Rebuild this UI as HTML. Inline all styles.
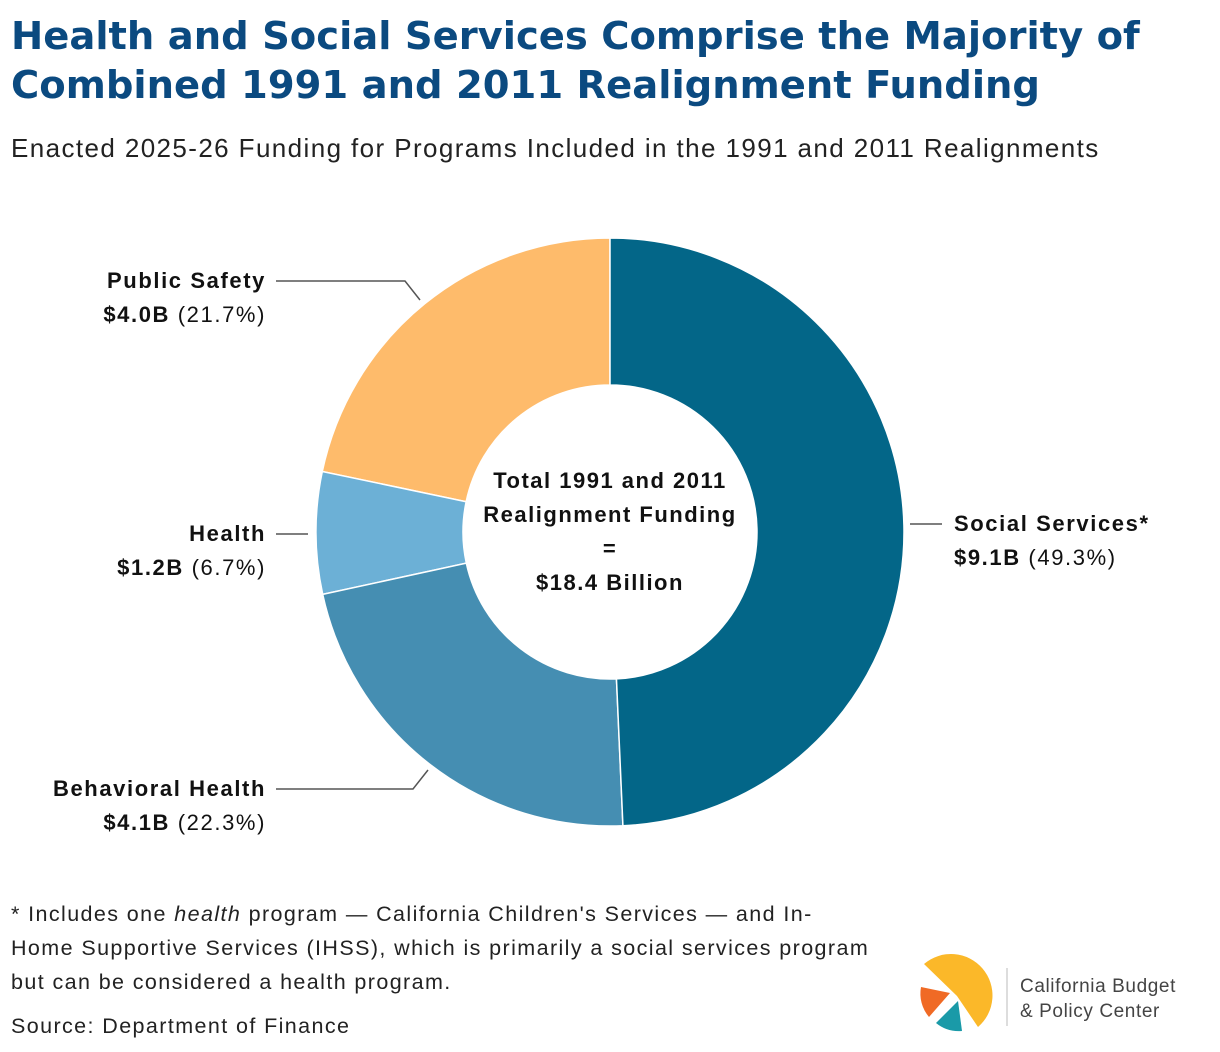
<!DOCTYPE html>
<html><head><meta charset="utf-8"><style>
body{margin:0;width:1220px;height:1052px;background:#fff;font-family:"Liberation Sans",sans-serif;position:relative;overflow:hidden}
.t{position:absolute;left:11px;top:12px;font-family:"DejaVu Sans",sans-serif;font-size:38.5px;font-weight:bold;color:#0b4a80;line-height:49px;white-space:nowrap}
.s{position:absolute;left:11px;top:133px;font-size:26px;color:#222;letter-spacing:1.4px;white-space:nowrap}
.lab{position:absolute;font-size:22px;color:#111;line-height:34px;letter-spacing:1.6px;white-space:nowrap}
.r{text-align:right}
.n{position:absolute;left:11px;font-size:21.5px;color:#222;line-height:34px;letter-spacing:1.4px;white-space:nowrap}
</style></head><body>
<div class="t">Health and Social Services Comprise the Majority of<br>Combined 1991 and 2011 Realignment Funding</div>
<div class="s">Enacted 2025-26 Funding for Programs Included in the 1991 and 2011 Realignments</div>
<svg id="c" width="1220" height="1052" style="position:absolute;left:0;top:0">
<g stroke="#555" stroke-width="1.5" fill="none">
<polyline points="276,281 405,281 420,300"/>
<polyline points="276,534 308,534"/>
<polyline points="276,789 413,789 428,770"/>
<polyline points="910,524 942,524"/>
</g>
<text x="610" y="488" text-anchor="middle" font-size="22" font-weight="bold" fill="#111" letter-spacing="1.5"><tspan x="610">Total 1991 and 2011</tspan><tspan x="610" dy="34">Realignment Funding</tspan><tspan x="610" dy="34">=</tspan><tspan x="610" dy="34">$18.4 Billion</tspan></text>
</svg>
<div class="lab r" style="right:954px;top:264px"><b>Public Safety</b><br><b>$4.0B</b> (21.7%)</div>
<div class="lab r" style="right:954px;top:517px"><b>Health</b><br><b>$1.2B</b> (6.7%)</div>
<div class="lab r" style="right:954px;top:772px"><b>Behavioral Health</b><br><b>$4.1B</b> (22.3%)</div>
<div class="lab" style="left:954px;top:507px"><b>Social Services*</b><br><b>$9.1B</b> (49.3%)</div>
<div class="n" style="top:897px">* Includes one <i>health</i> program — California Children's Services — and In-<br>Home Supportive Services (IHSS), which is primarily a social services program<br>but can be considered a health program.</div>
<div class="n" style="top:1009px">Source: Department of Finance</div>
<svg width="300" height="90" style="position:absolute;left:910px;top:950px">
<path d="M47,46 L14,14 A36,36 0 1 1 68,77 Z" fill="#fbb829"/>
<path d="M40,43 L11,37 A36,36 0 0 0 19,67 Z" fill="#f06a25"/>
<path d="M48,51 L52,81 A36,36 0 0 1 26,73 Z" fill="#1a9aa8"/>
<line x1="97" y1="18" x2="97" y2="76" stroke="#bbb" stroke-width="1"/>
<text x="110" y="42" font-size="19" fill="#444" letter-spacing="0.6">California Budget</text>
<text x="110" y="67" font-size="19" fill="#444" letter-spacing="0.6">&amp; Policy Center</text>
</svg>
<script>
const categories=["Social Services","Behavioral Health","Health","Public Safety"];
const values=[9.1,4.1,1.2,4.0];
const percents=[49.3,22.3,6.7,21.7];
const colors=["#036688","#458eb2","#6cb0d6","#febb6b"];
const svg=document.getElementById('c');
const cx=610,cy=532,R=294,r=147;
const total=percents.reduce((a,b)=>a+b,0);
let a0=0;
function pt(a,rad){return [cx+rad*Math.sin(a),cy-rad*Math.cos(a)];}
percents.forEach((p,i)=>{
 const a1=a0+p/total*2*Math.PI;
 const [x1,y1]=pt(a0,R),[x2,y2]=pt(a1,R),[x3,y3]=pt(a1,r),[x4,y4]=pt(a0,r);
 const lg=(a1-a0)>Math.PI?1:0;
 const el=document.createElementNS('http://www.w3.org/2000/svg','path');
 el.setAttribute('d',`M${x1},${y1} A${R},${R} 0 ${lg} 1 ${x2},${y2} L${x3},${y3} A${r},${r} 0 ${lg} 0 ${x4},${y4} Z`);
 el.setAttribute('fill',colors[i]);
 el.setAttribute('stroke','#fff');
 el.setAttribute('stroke-width','1.5');
 
 
 svg.insertBefore(el,svg.firstChild);
 a0=a1;
});
</script>
</body></html>
